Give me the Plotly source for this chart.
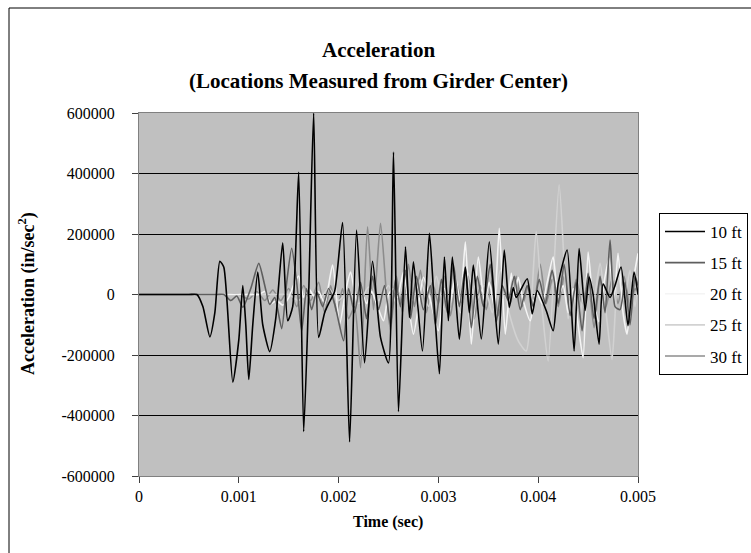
import plotly.graph_objects as go

# ---------------- data ----------------
t_10 = [0, 0.00050, 0.00058, 0.00064, 0.00071, 0.00076, 0.00081, 0.00085, 0.00094, 0.00100, 0.00104,
        0.00107, 0.00110, 0.00114, 0.00119, 0.00124, 0.00131, 0.00137, 0.00144, 0.00149, 0.00154,
        0.00160, 0.00165, 0.00170, 0.00175, 0.00180, 0.00186, 0.00190, 0.00196, 0.00204, 0.00211,
        0.00218, 0.00226, 0.00234, 0.00242, 0.00250, 0.00255, 0.00260, 0.00267, 0.00271, 0.00275,
        0.00284, 0.00291, 0.00296, 0.00301, 0.00306, 0.00310, 0.00314, 0.00321, 0.00327, 0.00331,
        0.00335, 0.00343, 0.00351, 0.00360, 0.00366, 0.00371, 0.00375, 0.00378, 0.00389, 0.00394,
        0.00399, 0.00408, 0.00415, 0.00420, 0.00429, 0.00436, 0.00441, 0.00447, 0.00451, 0.00455,
        0.00461, 0.00465, 0.00472, 0.00477, 0.00483, 0.00490, 0.00496, 0.00500]
a_10 = [0, 0, 0, -40000, -140000, -60000, 110000, 90000, -290000, -150000, 30000,
        -100000, -281000, -100000, 74000, -100000, -189000, -80000, 171000, -87000, -40000,
        404000, -453000, 0, 600000, -142000, -60000, -30000, 10000, 238000, -487000,
        213000, -226000, 110000, -142000, -226000, 471000, -387000, 158000, -76000, 108000,
        -187000, 202000, -42000, -262000, 124000, -87000, 124000, -148000, 91000, -60000,
        97000, -147000, 174000, -164000, 147000, -43000, 23000, -10000, 52000, -64000,
        13000, -53000, -120000, 35000, 147000, -187000, 152000, -53000, 58000, 0,
        -164000, 35000, -10000, 30000, 91000, -103000, 74000, 0]

t_15 = [0, 0.00078, 0.00085, 0.00092, 0.00098, 0.00104, 0.00112, 0.00120, 0.00126, 0.00131, 0.00136,
        0.00143, 0.00148, 0.00153, 0.00158, 0.00163, 0.00168, 0.00173, 0.00178, 0.00184, 0.00190,
        0.00196, 0.00205, 0.00210, 0.00216, 0.00222, 0.00228, 0.00234, 0.00240, 0.00246, 0.00252,
        0.00257, 0.00262, 0.00267, 0.00272, 0.00278, 0.00285, 0.00292, 0.00297, 0.00303, 0.00309,
        0.00315, 0.00321, 0.00327, 0.00333, 0.00339, 0.00345, 0.00352, 0.00358, 0.00364, 0.00370,
        0.00376, 0.00382, 0.00389, 0.00395, 0.00401, 0.00407, 0.00414, 0.00420, 0.00426, 0.00432,
        0.00438, 0.00444, 0.00450, 0.00456, 0.00462, 0.00467, 0.00472, 0.00477, 0.00482, 0.00487,
        0.00492, 0.00497, 0.00500]
a_15 = [0, 0, 0, -20000, -5000, -42000, 20000, 103000, 30000, -33000, -10000,
        -113000, 40000, 153000, 40000, -120000, 20000, -50000, 10000, -40000, 20000,
        -30000, -153000, 20000, -60000, 40000, -80000, 60000, -50000, 30000, -100000,
        50000, -40000, 80000, -80000, 60000, -50000, 30000, -100000, 50000, -60000,
        100000, -40000, 90000, -110000, 60000, -40000, 100000, -90000, 30000, -20000,
        60000, -50000, 30000, -40000, 50000, -30000, 80000, -30000, 100000, -70000,
        40000, -120000, 70000, -80000, 60000, -60000, 180000, -40000, -50000, 40000,
        -100000, 60000, 30000]

t_20 = [0, 0.00112, 0.00120, 0.00126, 0.00132, 0.00138, 0.00144, 0.00150, 0.00156, 0.00160, 0.00165,
        0.00170, 0.00175, 0.00180, 0.00186, 0.00194, 0.00201, 0.00207, 0.00212, 0.00218, 0.00222,
        0.00228, 0.00233, 0.00239, 0.00245, 0.00250, 0.00255, 0.00259, 0.00265, 0.00275, 0.00285,
        0.00292, 0.00300, 0.00306, 0.00311, 0.00317, 0.00322, 0.00327, 0.00333, 0.00340, 0.00346,
        0.00351, 0.00356, 0.00361, 0.00367, 0.00373, 0.00376, 0.00380, 0.00385, 0.00392, 0.00398,
        0.00404, 0.00409, 0.00415, 0.00420, 0.00425, 0.00430, 0.00435, 0.00440, 0.00445, 0.00450,
        0.00455, 0.00461, 0.00466, 0.00471, 0.00476, 0.00480, 0.00485, 0.00489, 0.00494, 0.00500]
a_20 = [0, 0, 0, 10000, -30000, -20000, -35000, -10000, 40000, 61000, -10000,
        20000, -5000, 10000, -30000, 97000, -98000, 10000, 74000, -20000, 20000,
        -30000, 10000, -40000, -87000, 0, 20000, -10000, 74000, -131000, 57000,
        -20000, -120000, 20000, -40000, 60000, -30000, 174000, -164000, 124000, -20000,
        40000, -40000, 219000, -131000, 71000, -10000, 57000, -20000, -87000, 10000,
        -30000, 40000, 124000, -10000, 30000, -60000, 20000, -100000, -209000, 140000,
        -20000, -90000, 40000, 120000, -20000, 136000, -60000, -131000, 20000, 136000]

t_25 = [0, 0.00140, 0.00150, 0.00160, 0.00170, 0.00180, 0.00190, 0.00200, 0.00210, 0.00220, 0.00230,
        0.00240, 0.00250, 0.00258, 0.00266, 0.00274, 0.00282, 0.00290, 0.00298, 0.00306, 0.00314,
        0.00322, 0.00330, 0.00338, 0.00346, 0.00354, 0.00362, 0.00370, 0.00380, 0.00388, 0.00398,
        0.00404, 0.00410, 0.00421, 0.00430, 0.00436, 0.00442, 0.00448, 0.00455, 0.00462, 0.00468,
        0.00474, 0.00480, 0.00486, 0.00492, 0.00497, 0.00500]
a_25 = [0, 0, 0, -20000, 15000, -15000, 20000, -20000, 10000, -30000, 25000,
        -20000, 30000, -30000, 40000, -20000, 50000, -40000, 60000, -50000, 20000,
        -60000, 70000, -20000, 30000, -60000, 80000, -50000, -153000, -187000, 208000,
        -50000, -220000, 363000, -80000, 20000, -60000, 60000, -30000, 103000, -60000,
        -215000, 60000, -20000, 80000, -40000, 60000]

t_30 = [0, 0.00092, 0.00100, 0.00110, 0.00118, 0.00126, 0.00134, 0.00142, 0.00150, 0.00158, 0.00165,
        0.00172, 0.00180, 0.00186, 0.00192, 0.00198, 0.00204, 0.00210, 0.00216, 0.00222, 0.00229,
        0.00235, 0.00242, 0.00248, 0.00252, 0.00258, 0.00264, 0.00270, 0.00276, 0.00282, 0.00288,
        0.00294, 0.00300, 0.00306, 0.00312, 0.00318, 0.00324, 0.00330, 0.00336, 0.00342, 0.00348,
        0.00354, 0.00360, 0.00366, 0.00372, 0.00378, 0.00384, 0.00390, 0.00396, 0.00402, 0.00408,
        0.00414, 0.00420, 0.00426, 0.00432, 0.00438, 0.00444, 0.00450, 0.00456, 0.00462, 0.00468,
        0.00474, 0.00480, 0.00486, 0.00492, 0.00497, 0.00500]
a_30 = [0, 0, 0, -15000, 10000, -20000, 15000, -20000, 20000, -40000, 30000,
        -20000, 40000, -60000, 30000, -60000, 20000, -80000, -40000, -242000, 224000,
        -50000, 235000, 0, -120000, 60000, -60000, 100000, -40000, 80000, -60000,
        40000, -30000, 60000, -70000, 40000, -30000, 60000, -80000, 30000, -50000,
        50000, -70000, 20000, -30000, 60000, -40000, 30000, -20000, 100000, -30000,
        50000, -40000, 60000, -60000, 50000, -30000, 40000, -110000, 50000, -40000,
        50000, -30000, 60000, -40000, 20000, 0]

series_names = ["10 ft", "15 ft", "20 ft", "25 ft", "30 ft"]
series_t = [t_10, t_15, t_20, t_25, t_30]
series_a = [a_10, a_15, a_20, a_25, a_30]
series_colors = ["#000000", "#5E5E5E", "#F4F4F4", "#D2D2D2", "#8C8C8C"]

x_ticks = [0, 0.001, 0.002, 0.003, 0.004, 0.005]
x_tick_labels = ["0", "0.001", "0.002", "0.003", "0.004", "0.005"]
y_ticks = [-600000, -400000, -200000, 0, 200000, 400000, 600000]
y_tick_labels = ["-600000", "-400000", "-200000", "0", "200000", "400000", "600000"]

# ---------------- layout geometry (pixels) ----------------
W, H = 751, 553
L, R, T, B = 139, 113, 113, 77
PW, PH = W - L - R, H - T - B

def px(x):
    return (x - L) / PW

def py(y):
    return (H - B - y) / PH

FONT = "Liberation Serif, Times New Roman, serif"

fig = go.Figure()
order = [4, 3, 2, 1, 0]  # 10 ft drawn last (on top)
for i in order:
    fig.add_trace(go.Scatter(
        x=series_t[i], y=series_a[i], mode="lines", name=series_names[i],
        legendgroup=series_names[i], legendrank=i + 1,
        line=dict(color=series_colors[i], width=1.6, shape="spline", smoothing=0.6),
        hoverinfo="skip",
    ))

fig.update_layout(
    width=W, height=H,
    margin=dict(l=L, r=R, t=T, b=B, autoexpand=False),
    paper_bgcolor="white",
    plot_bgcolor="#C0C0C0",
    font=dict(family=FONT, size=16, color="black"),
    showlegend=True,
    legend=dict(
        x=px(659), y=py(213), xanchor="left", yanchor="top",
        bordercolor="black", borderwidth=1, bgcolor="white",
        font=dict(family=FONT, size=17, color="black"),
        tracegroupgap=6, traceorder="grouped", itemwidth=40,
    ),
    xaxis=dict(
        range=[0, 0.005], tickvals=x_ticks, ticktext=x_tick_labels,
        showgrid=False, zeroline=False,
        showline=True, linecolor="#808080", linewidth=1, mirror=True,
        ticks="outside", ticklen=6, tickcolor="#404040",
        tickfont=dict(family=FONT, size=16), fixedrange=True,
    ),
    yaxis=dict(
        range=[-600000, 600000], tickvals=y_ticks, ticktext=y_tick_labels,
        showgrid=True, gridcolor="black", gridwidth=1,
        zeroline=True, zerolinecolor="black", zerolinewidth=1,
        showline=True, linecolor="#808080", linewidth=1, mirror=True,
        ticks="outside", ticklen=6, tickcolor="#404040",
        tickfont=dict(family=FONT, size=16), ticklabelstandoff=14, fixedrange=True,
    ),
    shapes=[dict(type="rect", xref="paper", yref="paper",
                 x0=px(9), x1=px(765), y0=py(565), y1=py(8),
                 line=dict(color="black", width=1), fillcolor="rgba(0,0,0,0)", layer="below")],
    annotations=[
        dict(text="<b>Acceleration</b>", xref="paper", yref="paper",
             x=px(378), y=py(50), xanchor="center", yanchor="middle", showarrow=False,
             font=dict(family=FONT, size=21)),
        dict(text="<b>(Locations Measured from Girder Center)</b>", xref="paper", yref="paper",
             x=px(378), y=py(81), xanchor="center", yanchor="middle", showarrow=False,
             font=dict(family=FONT, size=21)),
        dict(text="<b>Time (sec)</b>", xref="paper", yref="paper",
             x=px(388), y=py(522), xanchor="center", yanchor="middle", showarrow=False,
             font=dict(family=FONT, size=16)),
        dict(text="<b>Acceleration (in/sec<sup>2</sup>)</b>", xref="paper", yref="paper",
             x=px(27), y=py(294), xanchor="center", yanchor="middle", showarrow=False,
             textangle=-90, font=dict(family=FONT, size=18)),
    ],
)

fig.write_html("out.html")
